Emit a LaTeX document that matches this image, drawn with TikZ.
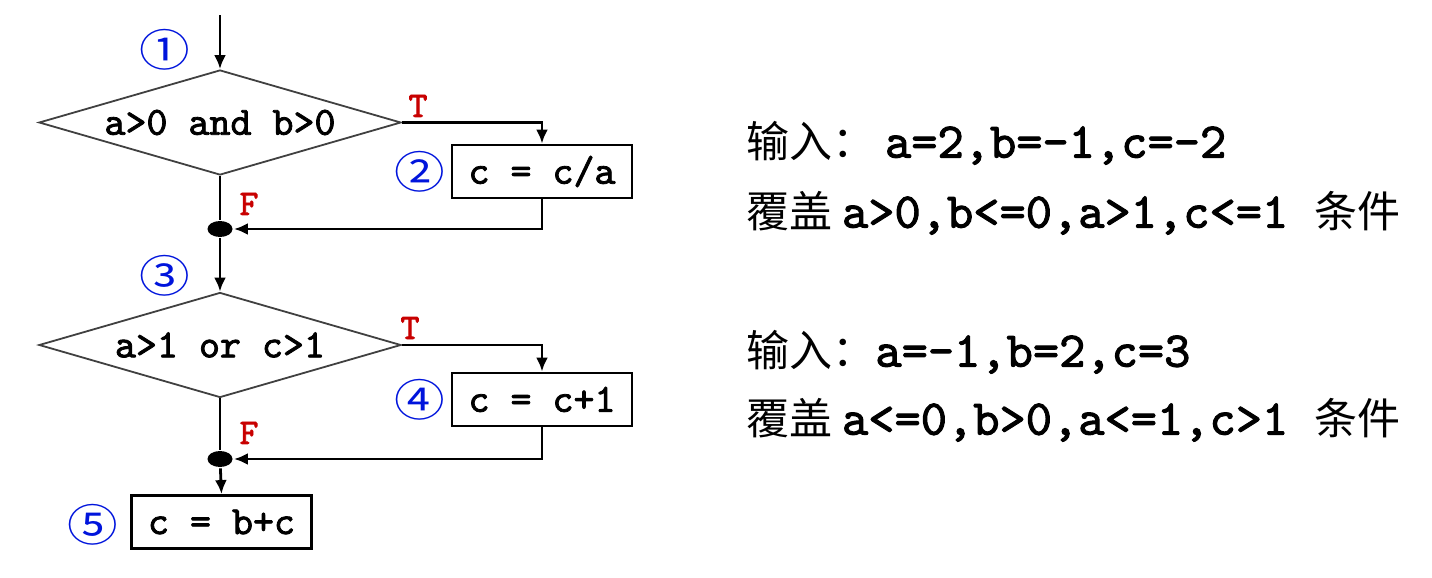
\documentclass[tikz,border=0pt]{standalone}
\usepackage{fontspec}
\usepackage{graphicx}
\newfontfamily\cjk{Noto Sans CJK SC}
\newfontfamily\cour{lmmono10-regular.otf}[FakeBold=2]
\usetikzlibrary{shapes.geometric,arrows.meta}
\definecolor{tred}{RGB}{200,0,0}
\definecolor{nblue}{RGB}{0,20,220}
\newcommand{\cf}{\cour}
\newcommand{\cnum}[1]{\scalebox{1.15}[1]{#1}}
\begin{document}
\begin{tikzpicture}[x=0.5pt,y=-0.5pt,
  line width=1.4pt,
  arr/.style={-{Latex[length=7pt,width=6pt]}},
  dec/.style={diamond,draw=black!75,line width=0.9pt,minimum width=181pt,minimum height=52.5pt,inner sep=0pt,aspect=3.45,font=\cf\fontsize{20}{22}\selectfont},
  proc/.style={rectangle,draw,line width=1.4pt,minimum width=90pt,minimum height=26.5pt,inner sep=0pt,font=\cf\fontsize{20}{22}\selectfont},
  jn/.style={ellipse,fill,minimum width=12.5pt,minimum height=8pt,inner sep=0pt},
  tf/.style={text=tred,font=\cf\fontsize{18}{20}\selectfont},
  num/.style={text=nblue,inner sep=0pt,font=\cjk\fontsize{22}{24}\selectfont},
  txt/.style={anchor=west,inner sep=0pt,font=\fontsize{21.5}{24}\selectfont}]
\useasboundingbox (0,0) rectangle (1432,578);
\coordinate (start) at (220,15);
\node[dec] (d1) at (220,122.5) {a>0 and b>0};
\node[proc] (b2) at (542,171.5) {c = c/a};
\node[jn] (j1) at (220,229) {};
\node[dec] (d2) at (220,345) {a>1 or c>1};
\node[proc] (b4) at (542,399.5) {c = c+1};
\node[jn] (j2) at (220,459) {};
\node[proc] (b5) at (221.5,522) {c = b+c};

\node[num] (n1) at (165,50) {\cnum{①}};
\node[num] (n2) at (420,172) {\cnum{②}};
\node[num] (n3) at (165,276) {\cnum{③}};
\node[num] (n4) at (420,400) {\cnum{④}};
\node[num] (n5) at (93,525) {\cnum{⑤}};

\node[tf] (t1) at (418,106) {T};
\node[tf] (f1) at (249,204) {F};
\node[tf] (t2) at (410,328) {T};
\node[tf] (f2) at (249,433) {F};

\draw[arr] (start) -- (d1.north);
\draw[arr] (d1.east) -| (b2.north);
\draw (d1.south) -- (j1);
\draw[arr] (b2.south) |- (j1.east);
\draw[arr] (j1) -- (d2.north);
\draw[arr] (d2.east) -| (b4.north);
\draw (d2.south) -- (j2);
\draw[arr] (b4.south) |- (j2.east);
\draw[arr] (j2) -- (b5.north);

\node[txt] (r1) at (745,143) {\cjk 输入：\ {\cf\fontsize{25}{24}\selectfont a=2,b=-1,c=-2}};
\node[txt] (r2) at (745,213) {\cjk 覆盖 {\cf\fontsize{25}{24}\selectfont a>0,b<=0,a>1,c<=1 }\cjk 条件};
\node[txt] (r3) at (745,352) {\cjk 输入：{\cf\fontsize{25}{24}\selectfont a=-1,b=2,c=3}};
\node[txt] (r4) at (745,420) {\cjk 覆盖 {\cf\fontsize{25}{24}\selectfont a<=0,b>0,a<=1,c>1 }\cjk 条件};
\end{tikzpicture}
\end{document}
